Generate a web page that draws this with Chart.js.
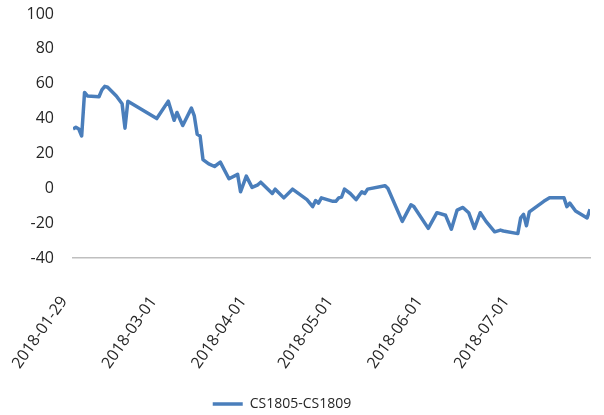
<!DOCTYPE html>
<html>
<head>
<meta charset="utf-8">
<script src="https://cdn.jsdelivr.net/npm/chart.js@4.4.1/dist/chart.umd.min.js"></script>
<style>
  html, body { margin: 0; padding: 0; background: #fff; }
</style>
</head>
<body>
<canvas id="chart-spread" width="604" height="415"></canvas>
<script>
// CS1805-CS1809 calendar spread
const seriesLabel = 'CS1805-CS1809';

const dates = [
    '2018-01-29', '2018-01-30', '2018-01-31', '2018-02-01', '2018-02-02', '2018-02-03',
    '2018-02-07', '2018-02-08', '2018-02-09', '2018-02-10', '2018-02-13', '2018-02-15',
    '2018-02-16', '2018-02-17', '2018-02-27', '2018-03-03', '2018-03-05', '2018-03-06',
    '2018-03-08', '2018-03-11', '2018-03-12', '2018-03-13', '2018-03-14', '2018-03-15',
    '2018-03-17', '2018-03-19', '2018-03-21', '2018-03-24', '2018-03-27', '2018-03-28',
    '2018-03-30', '2018-04-01', '2018-04-03', '2018-04-04', '2018-04-08', '2018-04-09',
    '2018-04-12', '2018-04-15', '2018-04-20', '2018-04-22', '2018-04-23', '2018-04-24',
    '2018-04-25', '2018-04-29', '2018-04-30', '2018-05-01', '2018-05-02', '2018-05-03',
    '2018-05-05', '2018-05-07', '2018-05-09', '2018-05-10', '2018-05-11', '2018-05-17',
    '2018-05-18', '2018-05-23', '2018-05-26', '2018-05-27', '2018-06-01', '2018-06-04',
    '2018-06-07', '2018-06-09', '2018-06-11', '2018-06-13', '2018-06-15', '2018-06-17',
    '2018-06-19', '2018-06-21', '2018-06-24', '2018-06-26', '2018-06-27', '2018-07-02',
    '2018-07-03', '2018-07-04', '2018-07-05', '2018-07-06', '2018-07-11', '2018-07-13',
    '2018-07-18', '2018-07-19', '2018-07-20', '2018-07-22', '2018-07-26', '2018-07-27'
];

const spread = [
    34, 35, 34, 30, 55, 53,
    52.5, 56.5, 58.5, 58, 53, 48.5,
    34.5, 50, 40, 50, 39, 43.5,
    36, 46, 41.5, 31, 30, 16.5,
    14, 12.5, 15, 5.5, 8, -2,
    7, 0.5, 2, 3.5, -3, -0.5,
    -5.5, -0.5, -6.5, -10.5, -7, -8.5,
    -5.5, -7.5, -7.5, -5.5, -5, -0.5,
    -3, -6.5, -2, -3, -0.5, 1.5,
    0, -19, -9.5, -10.5, -23, -14,
    -15.5, -23.5, -12.5, -11, -14, -23,
    -14, -19, -25, -24, -24.5, -26,
    -17, -15, -21.5, -13.5, -7.5, -5.5,
    -5.5, -10.5, -8.5, -13, -17, -12
];

const tickDates = ['2018-01-29', '2018-03-01', '2018-04-01', '2018-05-01', '2018-06-01', '2018-07-01'];

const yMin = -40;
const yMax = 100;
const yStep = 20;

const lineColor = '#4a7ebb';
const textColor = '#262626';

function dayIndex(str) {
    const [y, m, d] = str.split('-').map(Number);
    const [y0, m0, d0] = dates[0].split('-').map(Number);
    return Math.round((Date.UTC(y, m - 1, d) - Date.UTC(y0, m0 - 1, d0)) / 86400000);
}

const points = dates.map((d, i) => ({ x: dayIndex(d), y: spread[i] }));
const tickDays = tickDates.map(dayIndex);
const tickLabelFor = {};
tickDates.forEach((d, i) => { tickLabelFor[tickDays[i]] = d; });

// nudge the legend left of the canvas centre and a little lower
const legendShift = {
    id: 'legendShift',
    afterLayout(chart) {
        const legend = chart.legend;
        if (legend) {
            legend.left -= 13;
            legend.right -= 13;
            legend.top += 6;
            legend.bottom += 6;
        }
    }
};

Chart.defaults.font.family = "'Open Sans', sans-serif";
Chart.defaults.color = textColor;

const ctx = document.getElementById('chart-spread');
new Chart(ctx, {
    type: 'line',
    data: {
        datasets: [{
            label: seriesLabel,
            data: points,
            borderColor: lineColor,
            backgroundColor: lineColor,
            borderWidth: 3.5,
            pointRadius: 0,
            pointStyle: 'line',
            tension: 0,
            borderJoinStyle: 'round',
        }]
    },
    plugins: [legendShift],
    options: {
        responsive: false,
        animation: false,
        devicePixelRatio: 1,
        layout: { padding: { top: 14, right: 14, left: 0, bottom: 0 } },
        plugins: {
            legend: {
                position: 'bottom',
                labels: {
                    usePointStyle: true,
                    pointStyle: 'line',
                    pointStyleWidth: 30,
                    padding: 4,
                    font: { size: 14 },
                    color: textColor,
                }
            },
            tooltip: { enabled: false },
        },
        scales: {
            x: {
                type: 'linear',
                min: 0,
                max: points[points.length - 1].x,
                grid: { display: false, drawTicks: false },
                border: { display: true, color: '#bfbfbf', width: 1.5 },
                afterBuildTicks(scale) {
                    scale.ticks = tickDays.map(v => ({ value: v }));
                },
                afterFit(scale) {
                    scale.height = 129;
                    scale.paddingLeft = 0;
                    scale.paddingRight = 0;
                },
                ticks: {
                    autoSkip: false,
                    minRotation: 55,
                    maxRotation: 55,
                    padding: 35,
                    labelOffset: -9,
                    font: { size: 16 },
                    callback: (v) => tickLabelFor[v] || '',
                }
            },
            y: {
                min: yMin,
                max: yMax,
                grid: { display: false, drawTicks: false },
                border: { display: false },
                afterFit(scale) {
                    scale.width = 73;
                    scale.paddingTop = 0;
                    scale.paddingBottom = 0;
                },
                ticks: {
                    stepSize: yStep,
                    padding: 19,
                    font: { size: 16 },
                }
            }
        }
    }
});
</script>
</body>
</html>
